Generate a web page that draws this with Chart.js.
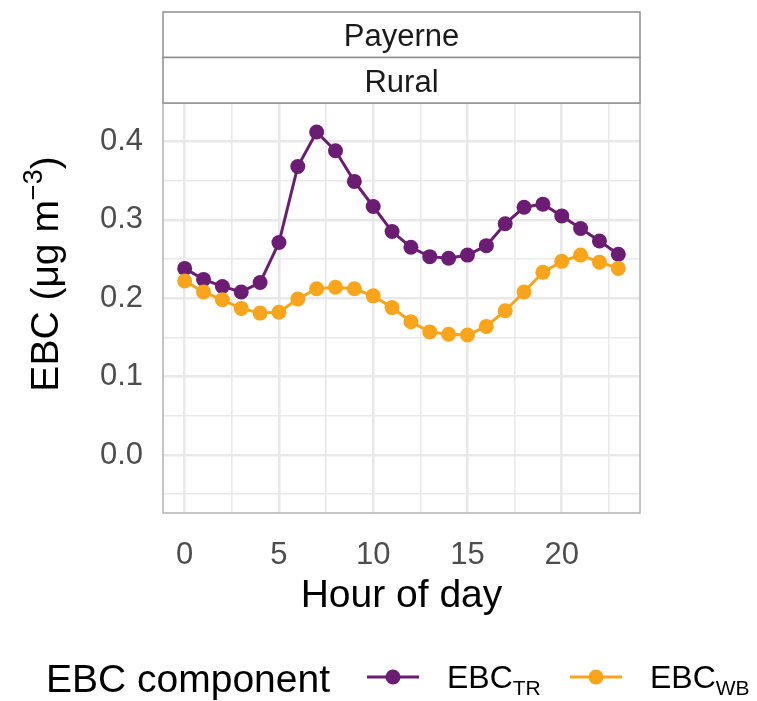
<!DOCTYPE html>
<html>
<head>
<meta charset="utf-8">
<script src="https://cdn.jsdelivr.net/npm/chart.js@4/dist/chart.umd.min.js"></script>
<style>
  html, body { margin: 0; padding: 0; background: #fff; }
  #wrap { width: 757px; height: 701px; }
</style>
</head>
<body>
<div id="wrap"><canvas id="chart" width="757" height="701"></canvas></div>
<script>
// hourly means
const hours = [0, 1, 2, 3, 4, 5, 6, 7, 8, 9, 10, 11, 12, 13, 14, 15, 16, 17, 18, 19, 20, 21, 22, 23];
const ebcTR = [0.238, 0.224, 0.215, 0.208, 0.220, 0.271, 0.368, 0.412, 0.388, 0.349, 0.317, 0.285,
               0.265, 0.253, 0.251, 0.255, 0.267, 0.295, 0.316, 0.320, 0.305, 0.289, 0.273, 0.256];
const ebcWB = [0.222, 0.208, 0.198, 0.187, 0.181, 0.182, 0.199, 0.212, 0.214, 0.212, 0.203, 0.188,
               0.170, 0.157, 0.154, 0.153, 0.164, 0.184, 0.208, 0.233, 0.247, 0.255, 0.246, 0.238];

const xTicks = [0, 5, 10, 15, 20];
const xMinor = [2.5, 7.5, 12.5, 17.5, 22.5];
const yTicks = [0.0, 0.1, 0.2, 0.3, 0.4];
const yMinor = [-0.05, 0.05, 0.15, 0.25, 0.35];

const stripLabels = ['Payerne', 'Rural'];
const legendTitle = 'EBC component';
const seriesLabels = [['EBC', 'TR'], ['EBC', 'WB']];

const colTR = '#6b1d73';
const colWB = '#f8a51b';
const FONT = '"Liberation Sans", Arial, Helvetica, sans-serif';

const gridWidth = (list) => (ctx) => list.includes(ctx.tick.value) ? 2.6 : 1.6;

const decorations = {
    id: 'decorations',
    afterDraw(chart) {
        const ctx = chart.ctx;
        const a = chart.chartArea;
        ctx.save();

        // panel border
        ctx.strokeStyle = '#b3b3b3';
        ctx.lineWidth = 1.5;
        ctx.strokeRect(a.left, a.top, a.right - a.left, a.bottom - a.top);

        // facet strips
        const stripH = 45.5;
        stripLabels.forEach((label, i) => {
            const y0 = a.top - stripH * (stripLabels.length - i);
            ctx.fillStyle = '#ffffff';
            ctx.fillRect(a.left, y0, a.right - a.left, stripH);
            ctx.strokeStyle = '#8f8f8f';
            ctx.lineWidth = 1.5;
            ctx.strokeRect(a.left, y0, a.right - a.left, stripH);
            ctx.fillStyle = '#1a1a1a';
            ctx.font = '31px ' + FONT;
            ctx.textAlign = 'center';
            ctx.textBaseline = 'alphabetic';
            ctx.fillText(label, (a.left + a.right) / 2, y0 + 34);
        });

        // x axis title
        ctx.fillStyle = '#000';
        ctx.font = '39px ' + FONT;
        ctx.textAlign = 'center';
        ctx.fillText('Hour of day', (a.left + a.right) / 2, 607);

        // y axis title with superscript
        ctx.save();
        ctx.translate(58, 274);
        ctx.rotate(-Math.PI / 2);
        const big = '39px ' + FONT, small = '27px ' + FONT;
        ctx.font = big;
        const w1 = ctx.measureText('EBC (\u03bcg m').width;
        const w3 = ctx.measureText(')').width;
        ctx.font = small;
        const w2 = ctx.measureText('\u22123').width;
        let x = -(w1 + w2 + w3) / 2;
        ctx.textAlign = 'left';
        ctx.font = big;
        ctx.fillText('EBC (\u03bcg m', x, 0);
        x += w1;
        ctx.font = small;
        ctx.fillText('\u22123', x, -16);
        x += w2;
        ctx.font = big;
        ctx.fillText(')', x, 0);
        ctx.restore();

        // legend
        ctx.textAlign = 'left';
        ctx.fillStyle = '#000';
        ctx.font = '39px ' + FONT;
        ctx.fillText(legendTitle, 46, 692);

        const keys = [
            { color: colTR, x: 367, text: seriesLabels[0] },
            { color: colWB, x: 570, text: seriesLabels[1] }
        ];
        keys.forEach(k => {
            const ly = 677;
            ctx.strokeStyle = k.color;
            ctx.lineWidth = 3;
            ctx.beginPath();
            ctx.moveTo(k.x, ly);
            ctx.lineTo(k.x + 52, ly);
            ctx.stroke();
            ctx.fillStyle = k.color;
            ctx.beginPath();
            ctx.arc(k.x + 26, ly, 7.5, 0, Math.PI * 2);
            ctx.fill();

            ctx.fillStyle = '#000';
            ctx.font = '32px ' + FONT;
            const tx = k.x + 80;
            ctx.fillText(k.text[0], tx, 688);
            const tw = ctx.measureText(k.text[0]).width;
            ctx.font = '21px ' + FONT;
            ctx.fillText(k.text[1], tx + tw, 695);
        });

        ctx.restore();
    }
};

new Chart(document.getElementById('chart'), {
    type: 'line',
    data: {
        datasets: [
            {
                label: 'EBC TR',
                data: hours.map((h, i) => ({ x: h, y: ebcTR[i] })),
                borderColor: colTR,
                backgroundColor: colTR,
                borderWidth: 3,
                pointRadius: 7.5,
                pointBorderWidth: 0,
                tension: 0,
                order: 2
            },
            {
                label: 'EBC WB',
                data: hours.map((h, i) => ({ x: h, y: ebcWB[i] })),
                borderColor: colWB,
                backgroundColor: colWB,
                borderWidth: 3,
                pointRadius: 7.5,
                pointBorderWidth: 0,
                tension: 0,
                order: 1
            }
        ]
    },
    options: {
        responsive: false,
        animation: false,
        devicePixelRatio: 1,
        layout: { padding: { left: 0, right: 117, top: 103, bottom: 0 } },
        plugins: {
            legend: { display: false },
            tooltip: { enabled: false }
        },
        scales: {
            x: {
                type: 'linear',
                min: -1.15,
                max: 24.15,
                afterBuildTicks: (scale) => {
                    scale.ticks = [...xTicks, ...xMinor].sort((p, q) => p - q).map(v => ({ value: v }));
                },
                afterFit: (scale) => { scale.height = 188; },
                border: { display: false },
                grid: {
                    drawTicks: false,
                    color: '#e9e9e9',
                    lineWidth: gridWidth(xTicks)
                },
                ticks: {
                    autoSkip: false,
                    maxRotation: 0,
                    padding: 24,
                    color: '#4d4d4d',
                    font: { family: FONT, size: 31 },
                    callback: (v) => xTicks.includes(v) ? String(v) : ''
                }
            },
            y: {
                type: 'linear',
                min: -0.074,
                max: 0.449,
                afterBuildTicks: (scale) => {
                    scale.ticks = [...yTicks, ...yMinor].sort((p, q) => p - q).map(v => ({ value: v }));
                },
                afterFit: (scale) => { scale.width = 163; },
                border: { display: false },
                grid: {
                    drawTicks: false,
                    color: '#e9e9e9',
                    lineWidth: gridWidth(yTicks)
                },
                ticks: {
                    autoSkip: false,
                    padding: 20,
                    color: '#4d4d4d',
                    font: { family: FONT, size: 31 },
                    callback: (v) => yTicks.includes(v) ? v.toFixed(1) : ''
                }
            }
        }
    },
    plugins: [decorations]
});
</script>
</body>
</html>
